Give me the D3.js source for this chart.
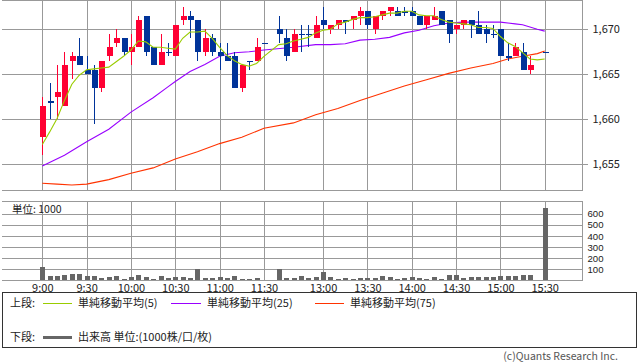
<!DOCTYPE html>
<html><head><meta charset="utf-8">
<script src="https://cdn.jsdelivr.net/npm/d3@7"></script>
<style>
html,body{margin:0;padding:0;background:#fff;}
svg{font-family:"Noto Sans CJK JP","Noto Sans",sans-serif;}
</style>
</head><body>
<svg id="c" width="638" height="362"></svg>
<script>
// ---- data ----
const times = ["9:00","9:05","9:10","9:15","9:20","9:25","9:30","9:35","9:40","9:45","9:50","9:55",
"10:00","10:05","10:10","10:15","10:20","10:25","10:30","10:35","10:40","10:45","10:50","10:55",
"11:00","11:05","11:10","11:15","11:20","11:25","11:30",
"12:30","12:35","12:40","12:45","12:50","12:55",
"13:00","13:05","13:10","13:15","13:20","13:25","13:30","13:35","13:40","13:45","13:50","13:55",
"14:00","14:05","14:10","14:15","14:20","14:25","14:30","14:35","14:40","14:45","14:50","14:55",
"15:00","15:05","15:10","15:15","15:20","15:25","15:30"];
const lunchGap = "lunch";
const open  = [1658,1662,1662.5,1661.5,1666.5,1667,1665.5,1665.5,1663.5,1667,1668.5,1669,
1667.5,1668,1671.5,1668,1666,1667.5,1667,1671,1671.5,1671,1667.5,1669,
1667.5,1667,1667,1663.5,1666.5,1666.5,1668.5,
1670,1669,1667.5,1669.5,1669.5,1669,
1671,1670,1670.5,1671,1671,1671.5,1672,1670,1671.5,1672,1672,1672,
1672,1671.5,1670.5,1671,1672,1671,1670,1670.5,1671,1670.5,1670,1669.5,
1670,1667,1667,1667.5,1665.5,null,1667.5];
const high  = [1662.5,1664,1666,1667.5,1667.5,1669,1667,1666,1666.5,1669.5,1670,1669,
1669.5,1671.5,1671.5,1668,1669.5,1668.5,1670.5,1672.5,1672,1671,1670,1669.5,
1668.5,1668.5,1667.5,1666,1666.5,1669,1668.5,
1671.5,1670,1670,1670.5,1670.5,1671.5,
1672.5,1670.5,1671,1671,1671.5,1672.5,1672,1671.5,1672,1672.5,1672.5,1672.5,
1672.5,1671.5,1671.5,1672.5,1672,1671,1670.5,1671,1671,1672,1670.5,1670.5,
1670,1668.5,1668.5,1668.5,1667,null,1667.5];
const low   = [1656,1660,1660,1661.5,1664.5,1666,1665,1659.5,1663,1666.5,1668,1667,
1666,1668,1667,1666,1666,1667,1667,1670.5,1669,1666.5,1667,1667,
1665.5,1666.5,1663.5,1663,1665.5,1666.5,1668.5,
1668.5,1666.5,1667.5,1667.5,1668,1669,
1670,1669.5,1670,1669.5,1670,1670.5,1670,1669.5,1671,1671.5,1671.5,1671.5,
1671.5,1670.5,1670,1671,1670.5,1668.5,1669.5,1670,1669,1669.5,1668.5,1669,
1667,1666.5,1667,1665.5,1665,null,1667.5];
const close = [1661.5,1662,1663,1666,1667,1666,1665,1663.5,1666.5,1668,1669,1667.5,
1668,1671,1667.5,1666,1667.5,1667.5,1670.5,1671.5,1671,1667.5,1669,1667.5,
1667,1666.5,1663.5,1666,1666.5,1668,1668.5,
1669.5,1667,1669.5,1669.5,1669.5,1670.5,
1670.5,1670.5,1671,1671,1671.5,1672,1670.5,1671.5,1672,1672.5,1671.5,1672,
1671.5,1670.5,1671.5,1671.5,1670.5,1669.5,1670.5,1671,1670.5,1669.5,1669.5,1669.5,
1667,1667,1668,1665.5,1666,null,1667.5];
const volume = [120,39,39,45,54,54,39,39,21,30,39,15,
27,45,27,15,39,24,30,30,21,99,21,21,
30,21,39,15,15,21,5,
99,24,24,39,21,30,
72,30,9,18,9,18,18,18,36,30,9,18,
30,18,9,30,12,45,45,21,30,30,30,30,
39,39,39,45,45,null,653];
const ma5 = [1657.2,1658.6,1660.1,1662.1,1663.9,1664.9,1665.5,1665.6,1665.7,1665.8,1666.4,1667.0,
1667.7,1668.7,1668.6,1668.0,1668.0,1667.9,1667.8,1669.0,1669.7,1669.7,1669.8,1669.0,
1668.0,1667.1,1666.5,1666.1,1665.9,1666.2,1667.0,
1668.3,1668.4,1668.7,1668.9,1669.1,1669.6,
1669.9,1670.0,1670.6,1670.8,1671.1,1671.3,1671.3,1671.4,1671.6,1671.8,1671.8,1672.0,
1672.0,1671.6,1671.5,1671.5,1671.1,1670.8,1670.7,1670.6,1670.5,1670.2,1670.2,1670.1,
1669.2,1668.5,1668.1,1667.4,1666.7,1666.6,1666.7];
const ma25Times = ["9:00","9:15","9:30","9:45","10:00","10:15","10:25","10:30","10:40","10:50","11:00","11:10","11:20","11:30",
"12:40","12:55","13:05","13:15","13:25","13:35","13:45","13:55","14:05","14:15","14:25","14:35","14:45","15:00","15:10","15:15","15:25","15:30"];
const ma25 = [1654.8,1656.0,1657.5,1658.9,1660.8,1662.4,1663.6,1664.2,1665.3,1666.1,1667.0,1667.4,1667.5,1667.7,
1668.0,1668.3,1668.3,1668.4,1668.8,1668.9,1669.1,1669.6,1669.9,1670.4,1670.7,1670.8,1670.8,1670.8,1670.6,1670.5,1670.0,1669.8];
const ma75Times = ["9:00","9:10","9:20","9:30","9:45","10:00","10:15","10:30","10:45","11:00","11:15","11:30",
"12:40","12:55","13:10","13:25","13:40","13:55","14:10","14:25","14:40","14:55","15:05","15:15","15:25","15:30"];
const ma75 = [1652.9,1652.8,1652.7,1652.8,1653.3,1654.0,1654.6,1655.6,1656.4,1657.3,1658.0,1659.0,
1659.6,1660.5,1661.2,1662.1,1662.9,1663.7,1664.4,1665.1,1665.7,1666.2,1666.7,1667.0,1667.3,1667.6];
const timeTicks = ["9:00","9:30","10:00","10:30","11:00","11:30","13:00","13:30","14:00","14:30","15:00","15:30"];
const priceTicks = [1655,1660,1665,1670];
const volTicks = [100,200,300,400,500,600];

// ---- layout ----
const svg = d3.select("#c");
const L = 2, R = 582.5;
const pTop = 0.5, pBot = 190.5, vTop = 201.5, vBot = 280.5;
const slots = [...times.slice(0,31), lunchGap, ...times.slice(31)];
const x = d3.scalePoint().domain(slots).range([42.3, 544.7]);
const y = d3.scaleLinear().domain([1655,1670]).range([164.3, 29.3]);
const yv = d3.scaleLinear().domain([0,600]).range([vBot, 213.7]);
const grid = "#999";
const RED = "#ff0033", BLUE = "#003399";

// grids upper
const g = svg.append("g").attr("shape-rendering","crispEdges");
priceTicks.forEach(v=>{
  g.append("line").attr("x1",L).attr("x2",R+5).attr("y1",Math.round(y(v))+0.5).attr("y2",Math.round(y(v))+0.5).attr("stroke",grid);
});
[pTop,pBot].forEach(yy=>g.append("line").attr("x1",L).attr("x2",R).attr("y1",yy).attr("y2",yy).attr("stroke",grid));
timeTicks.forEach(t=>{
  const xx = Math.round(x(t))+0.5;
  g.append("line").attr("x1",xx).attr("x2",xx).attr("y1",pTop).attr("y2",pBot).attr("stroke",grid);
  g.append("line").attr("x1",xx).attr("x2",xx).attr("y1",vTop).attr("y2",vBot).attr("stroke",grid);
});
g.append("line").attr("x1",R).attr("x2",R).attr("y1",pTop).attr("y2",pBot).attr("stroke",grid);
// grids volume
volTicks.forEach(v=>{
  const yy = Math.round(yv(v))+0.5;
  g.append("line").attr("x1",L).attr("x2",R).attr("y1",yy).attr("y2",yy).attr("stroke",grid);
});
[vTop,vBot].forEach(yy=>g.append("line").attr("x1",L).attr("x2",R).attr("y1",yy).attr("y2",yy).attr("stroke",grid));
g.append("line").attr("x1",R).attr("x2",R).attr("y1",vTop).attr("y2",vBot).attr("stroke",grid);

// moving averages
const line = d3.line().x(d=>x(d[0])).y(d=>y(d[1]));
const ma75Data = ma75Times.map((t,i)=>[t,ma75[i]]);
const ma25Data = ma25Times.map((t,i)=>[t,ma25[i]]);
const ma5Data = times.map((t,i)=>[t,ma5[i]]);
svg.append("path").attr("d",line(ma75Data)).attr("fill","none").attr("stroke","#ff3300").attr("stroke-width",1.1);
svg.append("path").attr("d",line(ma25Data)).attr("fill","none").attr("stroke","#9900ff").attr("stroke-width",1.1);

// candles
const cw = 6;
const cg = svg.append("g").attr("shape-rendering","crispEdges");
times.forEach((t,i)=>{
  if(open[i]==null) return;
  const col = close[i] > open[i] ? RED : BLUE;
  const cx = Math.round(x(t));
  cg.append("line").attr("x1",cx+0.5).attr("x2",cx+0.5).attr("y1",y(high[i])).attr("y2",y(low[i])).attr("stroke",col).attr("stroke-width",1);
  const top = y(Math.max(open[i],close[i])), bot = y(Math.min(open[i],close[i]));
  cg.append("rect").attr("x",cx-cw/2+0.5).attr("y",top).attr("width",cw).attr("height",Math.max(1.5,bot-top)).attr("fill",col);
});
svg.append("path").attr("d",line(ma5Data)).attr("fill","none").attr("stroke","#99cc00").attr("stroke-width",1.1);

// volume bars
svg.append("g").attr("shape-rendering","crispEdges").selectAll("rect")
  .data(times.map((t,i)=>[t,volume[i]]).filter(d=>d[1]!=null))
  .join("rect")
  .attr("x",d=>Math.round(x(d[0]))-2).attr("width",5)
  .attr("y",d=>yv(d[1])).attr("height",d=>vBot-0.5-yv(d[1]))
  .attr("fill","#666");

// axes labels
const ax = svg.append("g").attr("transform",`translate(0,${vBot})`)
  .call(d3.axisBottom(x).tickValues(timeTicks).tickSize(0).tickPadding(4));
ax.select(".domain").remove();
ax.selectAll("text").style("font-size","11px").attr("fill","#222").style("font-family","'Noto Sans CJK JP'");

const ay = svg.append("g").attr("transform",`translate(${R+5},0)`)
  .call(d3.axisRight(y).tickValues(priceTicks).tickSize(0).tickPadding(5).tickFormat(d3.format(",")));
ay.select(".domain").remove();
ay.selectAll("text").style("font-size","11px").attr("fill","#222").style("font-family","'Noto Sans CJK JP'");

const av = svg.append("g").attr("transform",`translate(${R},0)`)
  .call(d3.axisRight(yv).tickValues(volTicks).tickSize(0).tickPadding(5));
av.select(".domain").remove();
av.selectAll("text").style("font-size","9.6px").attr("fill","#222").style("font-family","'Liberation Sans'");

svg.append("text").attr("x",12).attr("y",213).attr("font-size",10.5).attr("fill","#222").text("単位: 1000");

// legend
svg.append("rect").attr("x",2.5).attr("y",292.5).attr("width",634).attr("height",55)
  .attr("fill","none").attr("stroke","#333").attr("shape-rendering","crispEdges");
const leg = svg.append("g").attr("font-size",11).attr("fill","#222");
const legendItems = [
  {x1:43,x2:72,tx:78,color:"#99cc00",label:"単純移動平均(5)"},
  {x1:171,x2:201,tx:207,color:"#9900ff",label:"単純移動平均(25)"},
  {x1:315,x2:344,tx:350,color:"#ff3300",label:"単純移動平均(75)"}
];
leg.append("text").attr("x",10).attr("y",307).text("上段:");
legendItems.forEach(d=>{
  leg.append("line").attr("x1",d.x1).attr("x2",d.x2).attr("y1",303.5).attr("y2",303.5).attr("stroke",d.color).attr("shape-rendering","crispEdges");
  leg.append("text").attr("x",d.tx).attr("y",307).text(d.label);
});
leg.append("text").attr("x",10).attr("y",341).text("下段:");
leg.append("line").attr("x1",43).attr("x2",72).attr("y1",337.5).attr("y2",337.5).attr("stroke","#666").attr("stroke-width",3);
leg.append("text").attr("x",78).attr("y",341).text("出来高 単位:(1000株/口/枚)");

svg.append("text").attr("x",618).attr("y",360).attr("text-anchor","end").attr("font-size",10.5).attr("fill","#555").text("(c)Quants Research Inc.");
</script>
</body></html>
